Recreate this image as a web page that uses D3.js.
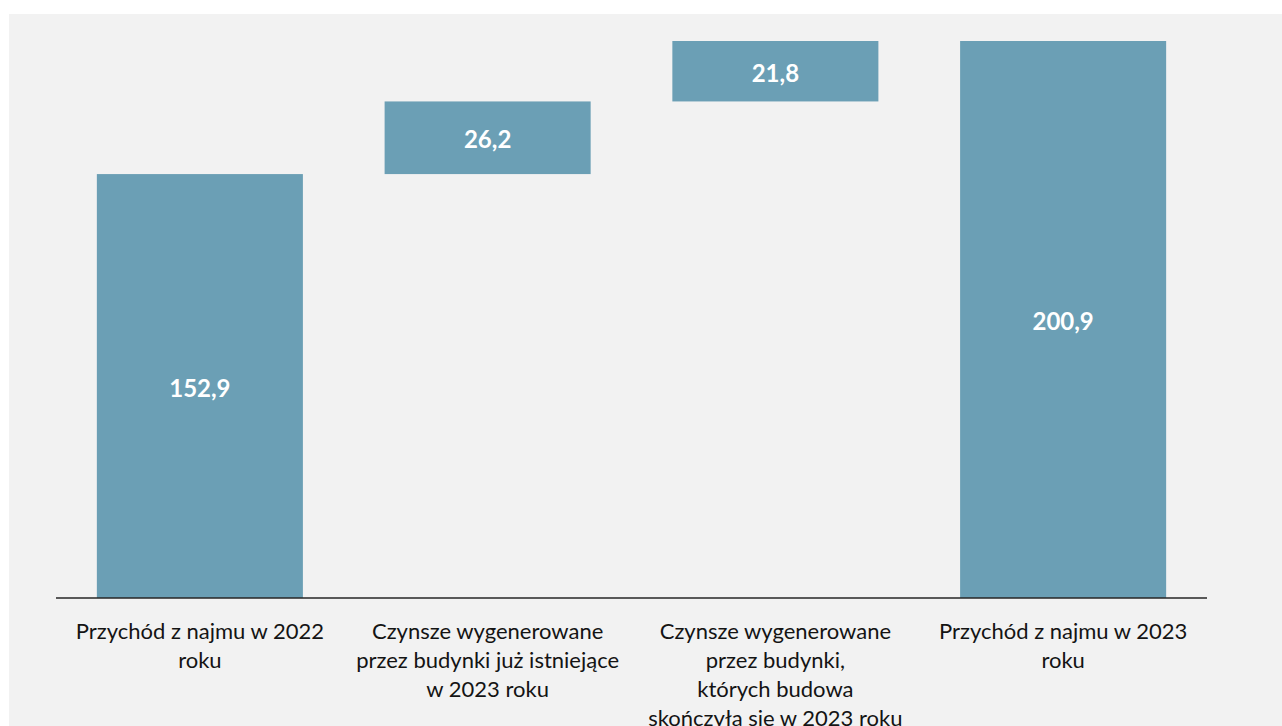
<!DOCTYPE html>
<html>
<head>
    <meta charset="utf-8">
    <title>Przychód z najmu - waterfall</title>
    <script src="https://cdn.jsdelivr.net/npm/d3@7" charset="utf-8"></script>
    <style>
        body { margin: 0; background: #ffffff; }
    </style>
</head>
<body>
    <script>
        // chart data
        var categories = ["k2022", "kIstn", "kNowe", "k2023"];
        var labelLines = [
            ["Przychód z najmu w 2022", "roku"],
            ["Czynsze wygenerowane", "przez budynki już istniejące", "w 2023 roku"],
            ["Czynsze wygenerowane", "przez budynki,", "których budowa", "skończyła się w 2023 roku"],
            ["Przychód z najmu w 2023", "roku"]
        ];
        var values = [152.9, 26.2, 21.8, 200.9];
        var isTotal = [true, false, false, true];

        var w = 1282;
        var h = 726;

        var svg = d3.select("body").append("svg")
                    .attr("width", w)
                    .attr("height", h);

        // grey panel
        svg.append("rect")
            .attr("x", 9).attr("y", 14)
            .attr("width", w - 9).attr("height", h - 14)
            .attr("fill", "#f2f2f2");

        var x = d3.scaleBand()
            .domain(categories)
            .range([56, 1207])
            .paddingInner(0.284)
            .paddingOuter(0.142);

        var y = d3.scaleLinear()
            .domain([0, 200.9])
            .range([598, 41]);

        // running sums for waterfall
        var run = 0;
        var bars = values.map(function(v, i) {
            var start, end;
            if (isTotal[i]) { start = 0; end = v; run = v; }
            else { start = run; end = run + v; run = end; }
            return { key: categories[i], v: v, start: start, end: end };
        });

        svg.selectAll("rect.bar")
            .data(bars)
            .enter()
            .append("rect")
            .attr("class", "bar")
            .attr("x", function(d) { return x(d.key); })
            .attr("y", function(d) { return y(d.end); })
            .attr("width", x.bandwidth())
            .attr("height", function(d) { return y(d.start) - y(d.end); })
            .attr("fill", "#6b9fb5");

        // value labels
        svg.selectAll("text.val")
            .data(bars)
            .enter()
            .append("text")
            .attr("class", "val")
            .attr("x", function(d) { return x(d.key) + x.bandwidth() / 2; })
            .attr("y", function(d) { return (y(d.start) + y(d.end)) / 2 + 1; })
            .attr("text-anchor", "middle")
            .attr("dominant-baseline", "central")
            .attr("font-family", "Lato, sans-serif")
            .attr("font-weight", "bold")
            .attr("font-size", 24)
            .attr("fill", "#ffffff")
            .text(function(d) { return d3.format(".1f")(d.v).replace(".", ","); });

        // x axis line
        svg.append("line")
            .attr("x1", 56).attr("x2", 1207)
            .attr("y1", y(0)).attr("y2", y(0))
            .attr("stroke", "#262626")
            .attr("stroke-width", 1.5);

        // category labels (multi line)
        var lab = svg.selectAll("text.cat")
            .data(categories)
            .enter()
            .append("text")
            .attr("class", "cat")
            .attr("text-anchor", "middle")
            .attr("font-family", "Lato, sans-serif")
            .attr("font-size", 22)
            .attr("fill", "#141414");

        lab.each(function(c, i) {
            var t = d3.select(this);
            labelLines[i].forEach(function(line, j) {
                t.append("tspan")
                    .attr("x", x(c) + x.bandwidth() / 2)
                    .attr("y", 639 + j * 29)
                    .text(line);
            });
        });
    </script>
</body>
</html>
